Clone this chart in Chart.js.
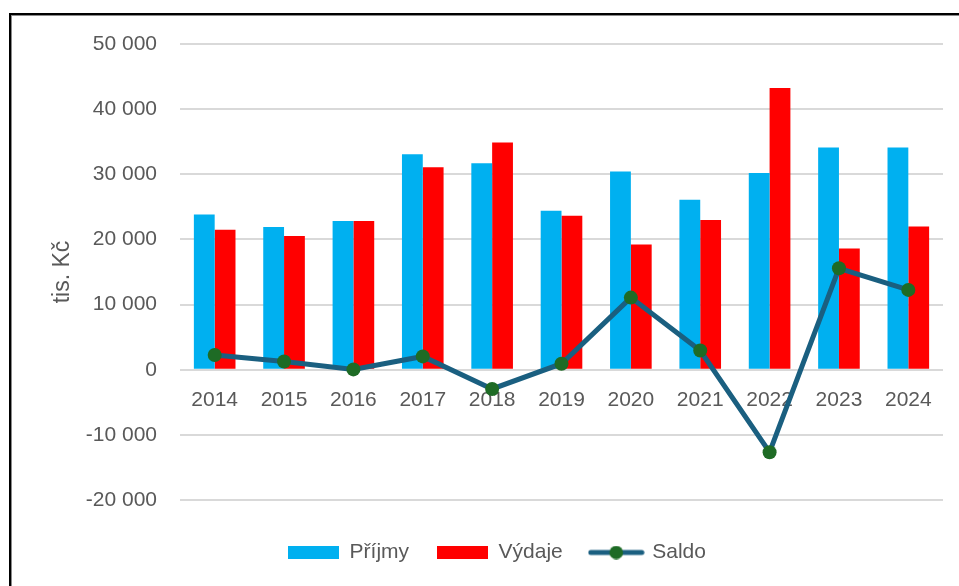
<!DOCTYPE html>
<html lang="cs">
<head>
<meta charset="utf-8">
<title>Příjmy, výdaje a saldo</title>
<script src="https://cdn.jsdelivr.net/npm/chart.js@4/dist/chart.umd.min.js"></script>
<style>
  html, body { margin:0; padding:0; background:#fff; overflow:hidden; }
  #wrap  { position:relative; width:959px; height:586px; }
  #frame { position:absolute; left:9px; top:13px; width:1000px; height:640px;
           border-left:2px solid #000; border-top:2px solid #000;
           box-shadow: inset 1px 1px 0 #8a8a8a; pointer-events:none; }
</style>
</head>
<body>
<div id="wrap">
  <canvas id="chart" width="959" height="586"></canvas>
  <div id="frame"></div>
</div>
<script>
'use strict';
// ── data ───────────────────────────────────────────────
const years   = ['2014','2015','2016','2017','2018','2019','2020','2021','2022','2023','2024'];
const prijmy  = [23840, 21900, 22820, 33080, 31700, 24400, 30410, 26080, 30210, 34100, 34100];
const vydaje  = [21490, 20520, 22820, 31090, 34870, 23630, 19230, 22970, 43250, 18620, 22000];
const saldo   = [ 2250,  1270,    50,  2040, -2950,   920, 11070,  2950,-12660, 15570, 12250];
const yTicks  = [-20000, -10000, 0, 10000, 20000, 30000, 40000, 50000];

const GREY  = '#595959';
const BLUE  = '#00B0F0';
const RED   = '#FF0000';
const LINE  = '#1A5F80';
const DOT   = '#1E6B25';
const FONT  = 'Arial, "Liberation Sans", sans-serif';

const fmtNum = v => (v < 0 ? '-' : '') + String(Math.abs(v)).replace(/\B(?=(\d{3})+(?!\d))/g, ' ');

// ── legend markers ─────────────────────────────────────
function boxMarker(color) {
  const c = document.createElement('canvas');
  c.width = 51; c.height = 13;
  const g = c.getContext('2d');
  g.fillStyle = color; g.fillRect(0, 0, 51, 13);
  return c;
}
function lineMarker() {
  const c = document.createElement('canvas');
  c.width = 57; c.height = 14;
  const g = c.getContext('2d');
  g.strokeStyle = LINE; g.lineWidth = 5; g.lineCap = 'round';
  g.beginPath(); g.moveTo(3, 7); g.lineTo(54, 7); g.stroke();
  g.fillStyle = DOT;
  g.beginPath(); g.arc(28.5, 7, 6.8, 0, Math.PI * 2); g.fill();
  return c;
}
const markers = [boxMarker(BLUE), boxMarker(RED), lineMarker()];

Chart.defaults.font.family = FONT;
Chart.defaults.color = GREY;

new Chart(document.getElementById('chart').getContext('2d'), {
  type: 'bar',
  data: {
    labels: years,
    datasets: [
      { label:'Příjmy', data:prijmy, backgroundColor:BLUE, order:2,
        categoryPercentage:0.6, barPercentage:1 },
      { label:'Výdaje', data:vydaje, backgroundColor:RED, order:2,
        categoryPercentage:0.6, barPercentage:1 },
      { type:'line', label:'Saldo', data:saldo, order:1,
        borderColor:LINE, borderWidth:5, backgroundColor:DOT,
        pointBackgroundColor:DOT, pointBorderColor:DOT, pointBorderWidth:0,
        pointRadius:7, pointHoverRadius:7, tension:0, fill:false },
    ],
  },
  options: {
    responsive: false,
    animation: false,
    devicePixelRatio: 1,
    layout: { padding: { left:51, right:16, top:44, bottom:13 } },
    plugins: {
      tooltip: { enabled:false },
      legend: {
        position: 'bottom',
        title: { display:true, text:' ', font:{ size:10 }, padding:1 },
        labels: {
          usePointStyle: true,
          pointStyleWidth: 51,
          boxHeight: 13,
          padding: 28,
          color: GREY,
          font: { size:21, family:FONT },
          sort: (a, b) => a.datasetIndex - b.datasetIndex,
          generateLabels: chart => Chart.defaults.plugins.legend.labels.generateLabels(chart)
            .map(l => Object.assign(l, { pointStyle: markers[l.datasetIndex] })),
        },
      },
    },
    scales: {
      x: {
        position: { y: 0 },
        grid: { display:false, drawTicks:false },
        border: { display:false },
        ticks: { color:GREY, font:{ size:21 }, padding:18, maxRotation:0, autoSkip:false },
      },
      y: {
        min: yTicks[0], max: yTicks[yTicks.length - 1],
        afterBuildTicks: s => { s.ticks = yTicks.map(v => ({ value:v })); },
        afterFit: s => { s.width = 129; },
        grid: { color:'#d9d9d9', lineWidth:2, drawTicks:false },
        border: { display:false },
        ticks: { color:GREY, font:{ size:21 }, padding:23, callback: v => fmtNum(v) },
        title: { display:true, text:'tis. Kč', color:GREY, font:{ size:23 },
                 padding:{ top:-2, bottom:0 } },
      },
    },
  },
});
</script>
</body>
</html>
